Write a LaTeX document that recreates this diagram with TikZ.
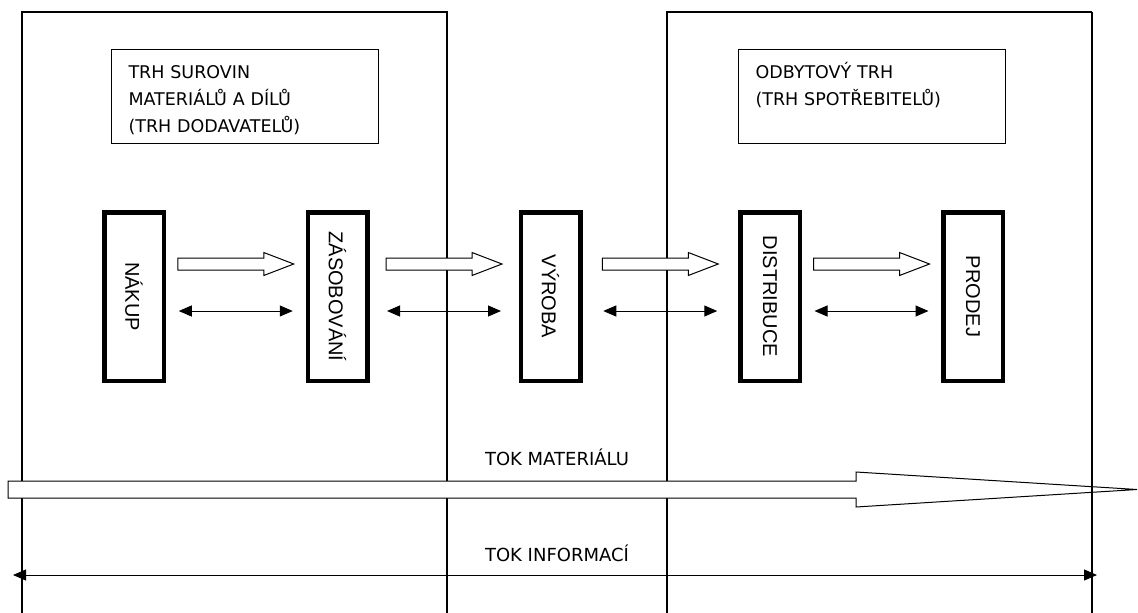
\documentclass[tikz,border=0pt]{standalone}
\usepackage{graphicx}
\usepackage{fontspec}
\setmainfont{DejaVu Sans}
\newfontfamily\stagefont{Liberation Sans}
\usetikzlibrary{arrows.meta,calc}

\begin{document}
\begin{tikzpicture}[x=1pt,y=-1pt,
    frame/.style={line width=1.2pt},
    market/.style={draw,line width=1pt,anchor=north west,align=left,
      text width=233pt,inner xsep=17pt,inner ysep=0pt,
      text height=29pt,text depth=65pt,font=\fontsize{17.5}{27}\selectfont},
    stage/.style={draw,line width=4.5pt,minimum width=59.5pt,
      minimum height=168.5pt,inner sep=0pt,font=\stagefont\fontsize{20}{24}\selectfont},
    flowarrow/.style={draw,line width=1pt,fill=white},
    infoarrow/.style={line width=1pt,
      {Triangle[length=13pt,width=11pt]}-{Triangle[length=13pt,width=11pt]}},
    flowlabel/.style={anchor=base,font=\fontsize{18}{22}\selectfont}]
  \useasboundingbox (0,0) rectangle (1138,613);

  % the two markets
  \draw[frame] (22,613) -- (22,12) -- (447,12) -- (447,613);
  \draw[frame] (667,613) -- (667,12) -- (1092,12);
  \node[market] (suppliers) at (111,49) {TRH SUROVIN\\MATERIÁLŮ A DÍLŮ\\(TRH DODAVATELŮ)};
  \node[market] (consumers) at (738,49) {ODBYTOVÝ TRH\\(TRH SPOTŘEBITELŮ)};

  % chain of stages
  \node[stage] (nakup) at (134,296.5) {\rotatebox{-90}{NÁKUP}};
  \node[stage] (zasobovani) at (337.5,296.5) {\rotatebox{-90}{ZÁSOBOVÁNÍ}};
  \node[stage] (vyroba) at (550.5,296.5) {\rotatebox{-90}{VÝROBA}};
  \node[stage] (distribuce) at (770,296.5) {\rotatebox{-90}{DISTRIBUCE}};
  \node[stage] (prodej) at (973,296.5) {\rotatebox{-90}{PRODEJ}};

  \foreach \a/\b in {nakup/zasobovani,zasobovani/vyroba,vyroba/distribuce,distribuce/prodej}{
    \coordinate (mid) at ($(\a.east)!.5!(\b.west)$);
    \draw[flowarrow] ($(mid)+(-58,-38.5)$) -- ++(86,0) -- ++(0,-5.5) -- ++(30,11.5)
      -- ++(-30,11.5) -- ++(0,-5.5) -- ++(-86,0) -- cycle;
    \draw[infoarrow] ($(mid)+(-57,14.5)$) -- ($(mid)+(57,14.5)$);
  }

  % material flow
  \coordinate (matstart) at (8,489.5);
  \coordinate (matend) at (1137,489.5);
  \draw[flowarrow] ($(matstart)+(0,-8.5)$) -- ($(matend)+(-281,-8.5)$) -- ++(0,-9)
    -- (matend) -- ++(-281,17.5) -- ++(0,-9) -- ($(matstart)+(0,8.5)$) -- cycle;
  \draw[frame] (1092,12) -- (1092,613);
  \node[flowlabel] (tokmat) at (557,465.5) {TOK MATERIÁLU};

  % information flow
  \coordinate (infostart) at (13,575);
  \coordinate (infoend) at (1097,575);
  \draw[infoarrow] (infostart) -- (infoend);
  \node[flowlabel] (tokinf) at (557,561.3) {TOK INFORMACÍ};
\end{tikzpicture}
\end{document}
